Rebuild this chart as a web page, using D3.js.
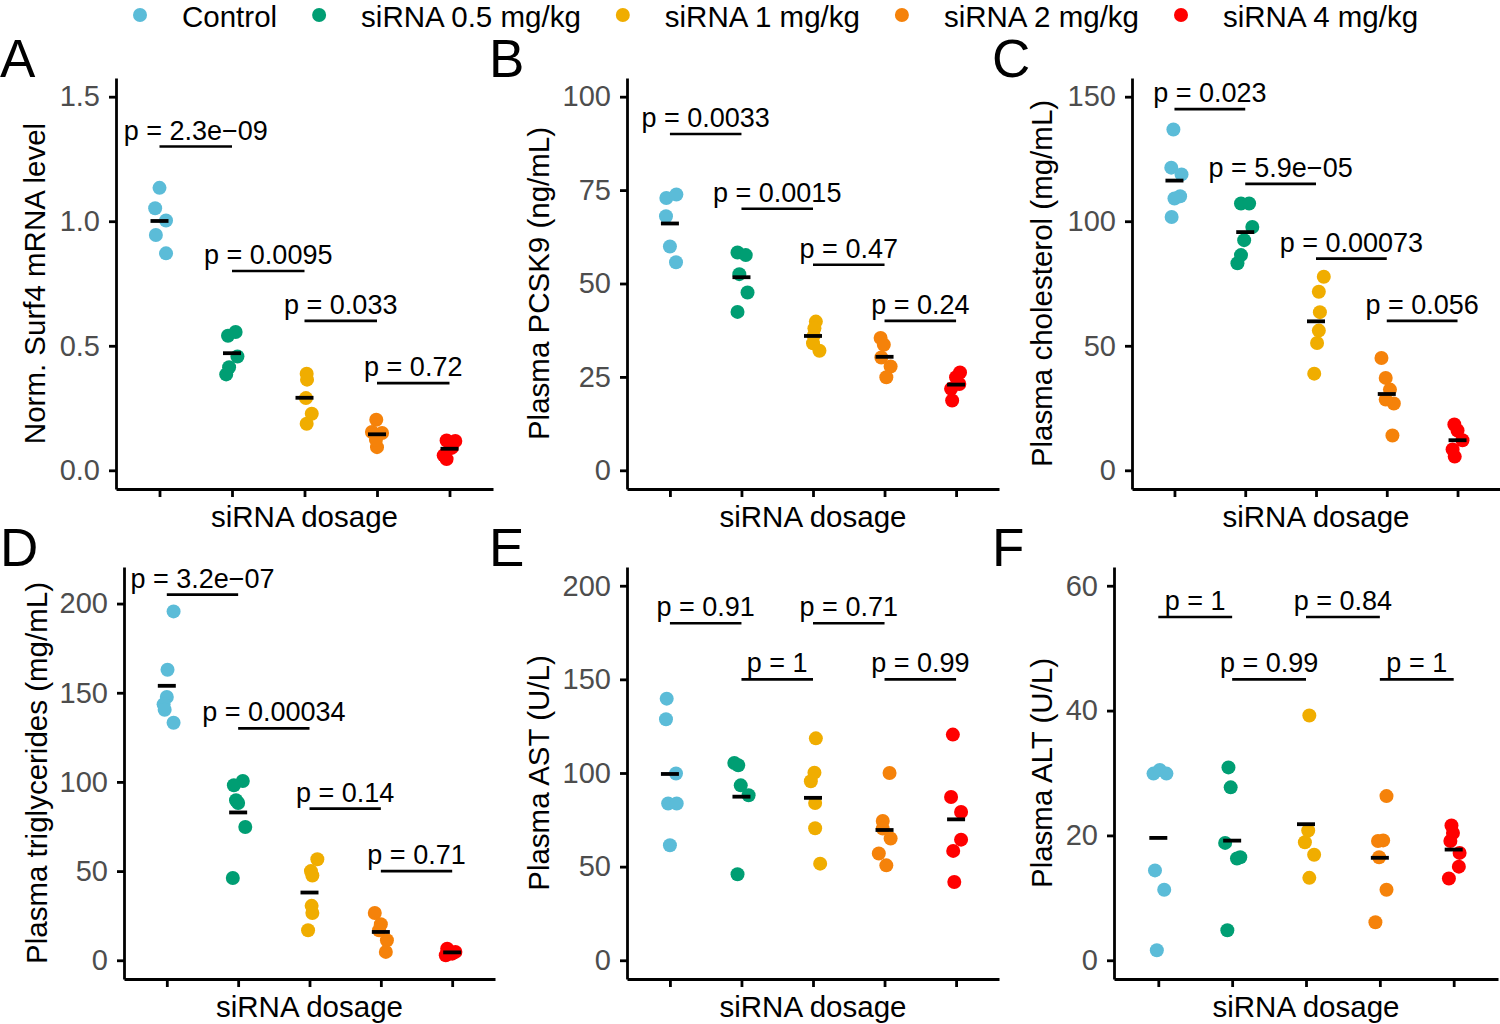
<!DOCTYPE html>
<html>
<head>
<meta charset="utf-8">
<script src="https://cdn.jsdelivr.net/npm/d3@7"></script>
<style>
	html, body { margin: 0; padding: 0; background: #fff; }
	svg { display: block; font-family: "Liberation Sans", Arial, Helvetica, sans-serif; }
	.tick text { fill: #4d4d4d; font-size: 29px; }
	.domain, .tick line { stroke: #000; stroke-width: 2.8; }
</style>
</head>
<body>
<svg id="chart" width="1500" height="1024"></svg>
<script>
// groups and colours
const groups = ['Control', 'siRNA 0.5 mg/kg', 'siRNA 1 mg/kg', 'siRNA 2 mg/kg', 'siRNA 4 mg/kg'];
const colors = ['#5BBCD8', '#009E73', '#F0AD00', '#F5820A', '#FF0000'];

// A - Surf4 mRNA
const surf4Values = [
	[1.134, 1.052, 1.003, 0.945, 0.871],
	[0.540, 0.555, 0.457, 0.414, 0.385],
	[0.388, 0.364, 0.290, 0.227, 0.187],
	[0.203, 0.150, 0.154, 0.093, 0.123],
	[0.120, 0.118, 0.090, 0.060, 0.045],
];
const surf4Jitter = [
	[0, -0.06, 0.09, -0.05, 0.09],
	[-0.055, 0.05, 0.075, -0.04, -0.08],
	[0.03, 0.035, 0.02, 0.1, 0.03],
	[-0.01, 0.07, -0.07, 0, -0.015],
	[-0.04, 0.08, 0.03, -0.08, -0.04],
];
const surf4Brackets = [
	{ from: 0, to: 1, y: 1.30, p: '2.3e\u221209' },
	{ from: 1, to: 2, y: 0.80, p: '0.0095' },
	{ from: 2, to: 3, y: 0.60, p: '0.033' },
	{ from: 3, to: 4, y: 0.35, p: '0.72' },
];

// B - PCSK9
const pcsk9Values = [
	[72.9, 73.8, 68.0, 59.9, 55.7],
	[58.3, 57.6, 52.5, 47.6, 42.4],
	[39.8, 38.0, 36.0, 34.0, 32.0],
	[35.4, 33.6, 30.2, 27.8, 24.9],
	[26.2, 24.9, 23.1, 21.8, 18.7],
];
const pcsk9Jitter = [
	[-0.05, 0.09, -0.055, 0, 0.085],
	[-0.055, 0.06, -0.03, 0.085, -0.055],
	[0.04, 0.02, 0.01, 0, 0.09],
	[-0.055, -0.01, -0.045, 0.085, 0.025],
	[0.055, 0, 0.045, -0.07, -0.055],
];
const pcsk9Brackets = [
	{ from: 0, to: 1, y: 90, p: '0.0033' },
	{ from: 1, to: 2, y: 70, p: '0.0015' },
	{ from: 2, to: 3, y: 55, p: '0.47' },
	{ from: 3, to: 4, y: 40, p: '0.24' },
];

// C - cholesterol
const cholValues = [
	[136.8, 121.5, 118.8, 110.0, 109.1, 101.7],
	[107.1, 107.1, 97.7, 92.4, 86.4, 83.1],
	[77.7, 71.7, 63.5, 56.1, 51.1, 38.8],
	[45.1, 37.1, 32.4, 26.8, 28.4, 14.0],
	[18.4, 16.0, 12.1, 8.4, 5.5],
];
const cholJitter = [
	[-0.015, -0.045, 0.1, 0.08, 0, -0.04],
	[-0.06, 0.055, 0.1, -0.015, -0.06, -0.11],
	[0.11, 0.04, 0.055, 0.04, 0.015, -0.025],
	[-0.075, -0.015, 0.045, 0.1, -0.015, 0.08],
	[-0.045, 0, 0.07, -0.07, -0.04],
];
const cholBrackets = [
	{ from: 0, to: 1, y: 145, p: '0.023' },
	{ from: 1, to: 2, y: 115, p: '5.9e\u221205' },
	{ from: 2, to: 3, y: 85, p: '0.00073' },
	{ from: 3, to: 4, y: 60, p: '0.056' },
];

// D - triglycerides
const trigValues = [
	[195.6, 162.9, 147.6, 143.5, 140.5, 133.2],
	[100.5, 98.1, 89.7, 88.2, 74.7, 46.1],
	[56.6, 50.0, 47.5, 30.5, 26.5, 16.8],
	[26.5, 20.2, 11.2, 4.7, 16.8],
	[6.5, 4.7, 2.8, 3.7],
];
const trigJitter = [
	[0.095, 0.01, 0, -0.045, -0.03, 0.095],
	[0.065, -0.06, -0.03, 0, 0.1, -0.075],
	[0.11, 0.02, 0.04, 0.03, 0.04, -0.02],
	[-0.085, 0, 0.085, 0.07, -0.025],
	[-0.07, 0.045, -0.09, 0],
];
const trigBrackets = [
	{ from: 0, to: 1, y: 205, p: '3.2e\u221207' },
	{ from: 1, to: 2, y: 130, p: '0.00034' },
	{ from: 2, to: 3, y: 85, p: '0.14' },
	{ from: 3, to: 4, y: 50, p: '0.71' },
];

// E - AST
const astValues = [
	[139.7, 128.7, 99.7, 83.7, 83.7, 61.4],
	[105.3, 104.1, 93.4, 88.1, 45.9],
	[118.5, 100.2, 95.6, 84.0, 70.5, 51.6],
	[100.0, 74.4, 65.0, 70.3, 57.0, 50.7],
	[120.5, 87.2, 79.2, 64.4, 58.4, 41.8],
];
const astJitter = [
	[-0.045, -0.055, 0.085, -0.025, 0.095, 0],
	[-0.1, -0.045, -0.01, 0.1, -0.055],
	[0.04, 0.02, -0.03, 0.03, 0.03, 0.1],
	[0.07, -0.025, 0.085, -0.025, -0.08, 0.025],
	[-0.045, -0.07, 0.07, 0.07, -0.04, -0.025],
];
const astBrackets = [
	{ from: 0, to: 1, y: 180, p: '0.91' },
	{ from: 1, to: 2, y: 150, p: '1' },
	{ from: 2, to: 3, y: 180, p: '0.71' },
	{ from: 3, to: 4, y: 150, p: '0.99' },
];

// F - ALT
const altValues = [
	[29.9, 30.5, 29.9, 14.4, 11.3, 1.6],
	[30.9, 27.7, 18.8, 16.3, 16.5, 4.8],
	[39.2, 20.8, 18.9, 16.9, 13.2],
	[26.3, 19.2, 19.1, 16.5, 11.3, 6.1],
	[21.6, 20.4, 19.1, 17.2, 15.0, 13.1],
];
const altJitter = [
	[-0.065, 0.02, 0.11, -0.045, 0.08, -0.02],
	[-0.05, -0.02, -0.095, 0.065, 0.11, -0.065],
	[0.045, 0.03, -0.015, 0.11, 0.045],
	[0.09, 0.045, -0.025, -0.01, 0.09, -0.06],
	[-0.03, -0.01, -0.045, 0.08, 0.07, -0.065],
];
const altBrackets = [
	{ from: 0, to: 1, y: 55, p: '1' },
	{ from: 1, to: 2, y: 45, p: '0.99' },
	{ from: 2, to: 3, y: 55, p: '0.84' },
	{ from: 3, to: 4, y: 45, p: '1' },
];

const panels = [
	{ letter: 'A', title: 'Norm. Surf4 mRNA level', values: surf4Values, jitter: surf4Jitter, brackets: surf4Brackets,
		limits: [0, 1.5], ticks: [0, 0.5, 1, 1.5], fmt: '.1f' },
	{ letter: 'B', title: 'Plasma PCSK9 (ng/mL)', values: pcsk9Values, jitter: pcsk9Jitter, brackets: pcsk9Brackets,
		limits: [0, 100], ticks: [0, 25, 50, 75, 100], fmt: 'd' },
	{ letter: 'C', title: 'Plasma cholesterol (mg/mL)', values: cholValues, jitter: cholJitter, brackets: cholBrackets,
		limits: [0, 150], ticks: [0, 50, 100, 150], fmt: 'd' },
	{ letter: 'D', title: 'Plasma triglycerides (mg/mL)', values: trigValues, jitter: trigJitter, brackets: trigBrackets,
		limits: [0, 210], ticks: [0, 50, 100, 150, 200], fmt: 'd' },
	{ letter: 'E', title: 'Plasma AST (U/L)', values: astValues, jitter: astJitter, brackets: astBrackets,
		limits: [0, 200], ticks: [0, 50, 100, 150, 200], fmt: 'd' },
	{ letter: 'F', title: 'Plasma ALT (U/L)', values: altValues, jitter: altJitter, brackets: altBrackets,
		limits: [0, 60], ticks: [0, 20, 40, 60], fmt: 'd' },
];

// panel boxes (pixels)
const boxes = [
	{ x0: 116, x1: 493, y0: 78, y1: 489, titleX: 45, letterX: 0 },
	{ x0: 627, x1: 999, y0: 78, y1: 489, titleX: 549, letterX: 489 },
	{ x0: 1132, x1: 1500, y0: 78, y1: 489, titleX: 1052, letterX: 992 },
	{ x0: 124, x1: 495, y0: 567, y1: 979, titleX: 47, letterX: 0 },
	{ x0: 627, x1: 999, y0: 567, y1: 979, titleX: 549, letterX: 489 },
	{ x0: 1114, x1: 1498, y0: 567, y1: 979, titleX: 1052, letterX: 992 },
];

const svg = d3.select('#chart');

// LEGEND
const legend = svg.append('g').attr('class', 'legend');
let lx = 140;
groups.forEach((g, i) => {
	legend.append('circle')
		.attr('cx', lx).attr('cy', 15).attr('r', 7)
		.attr('fill', colors[i]);
	const t = legend.append('text')
		.attr('x', lx + 42).attr('y', 26.5)
		.style('font-size', '29.5px')
		.text(g);
	lx = lx + 42 + t.node().getComputedTextLength() + 42;
});

panels.forEach((p, k) => {
	const b = boxes[k];
	const g = svg.append('g').attr('class', 'panel');

	const x = d3.scalePoint()
		.domain(d3.range(groups.length))
		.range([b.x0, b.x1])
		.padding(0.6);
	const step = x.step();

	const span = p.limits[1] - p.limits[0];
	const y = d3.scaleLinear()
		.domain([p.limits[0] - span * 0.05, p.limits[1] + span * 0.05])
		.range([b.y1, b.y0]);

	// axes
	g.append('g')
		.attr('transform', `translate(${b.x0},0)`)
		.call(d3.axisLeft(y).tickValues(p.ticks).tickFormat(d3.format(p.fmt)).tickSize(7).tickSizeOuter(0).tickPadding(9))
		.call(a => a.selectAll('text').attr('font-family', null).attr('font-size', null));
	g.append('g')
		.attr('transform', `translate(0,${b.y1})`)
		.call(d3.axisBottom(x).tickFormat('').tickSize(8).tickSizeOuter(0));

	// points
	const pts = p.values.flatMap((vals, gi) => vals.map((v, j) => ({ gi, v, jit: p.jitter[gi][j] })));
	g.selectAll('circle.pt')
		.data(pts)
		.join('circle')
		.attr('class', 'pt')
		.attr('cx', d => x(d.gi) + d.jit * step)
		.attr('cy', d => y(d.v))
		.attr('r', 7)
		.attr('fill', d => colors[d.gi]);

	// mean bars
	g.selectAll('line.mean')
		.data(p.values.map((vals, gi) => ({ gi, m: d3.mean(vals) })))
		.join('line')
		.attr('class', 'mean')
		.attr('x1', d => x(d.gi) - 9)
		.attr('x2', d => x(d.gi) + 9)
		.attr('y1', d => y(d.m))
		.attr('y2', d => y(d.m))
		.attr('stroke', '#000')
		.attr('stroke-width', 3.8);

	// brackets
	g.selectAll('line.bracket')
		.data(p.brackets)
		.join('line')
		.attr('class', 'bracket')
		.attr('x1', d => x(d.from))
		.attr('x2', d => x(d.to))
		.attr('y1', d => y(d.y))
		.attr('y2', d => y(d.y))
		.attr('stroke', '#000')
		.attr('stroke-width', 2.6);
	g.selectAll('text.pval')
		.data(p.brackets)
		.join('text')
		.attr('class', 'pval')
		.attr('x', d => (x(d.from) + x(d.to)) / 2)
		.attr('y', d => y(d.y) - 7)
		.attr('text-anchor', 'middle')
		.style('font-size', '27px')
		.text(d => `p = ${d.p}`);

	// titles
	g.append('text')
		.attr('x', (b.x0 + b.x1) / 2)
		.attr('y', b.y1 + 38)
		.attr('text-anchor', 'middle')
		.style('font-size', '29.5px')
		.text('siRNA dosage');
	g.append('text')
		.attr('transform', `translate(${b.titleX},${(b.y0 + b.y1) / 2})rotate(-90)`)
		.attr('text-anchor', 'middle')
		.style('font-size', '29.5px')
		.text(p.title);
	g.append('text')
		.attr('x', b.letterX)
		.attr('y', b.y0 - 1)
		.style('font-size', '53px')
		.text(p.letter);
});
</script>
</body>
</html>
